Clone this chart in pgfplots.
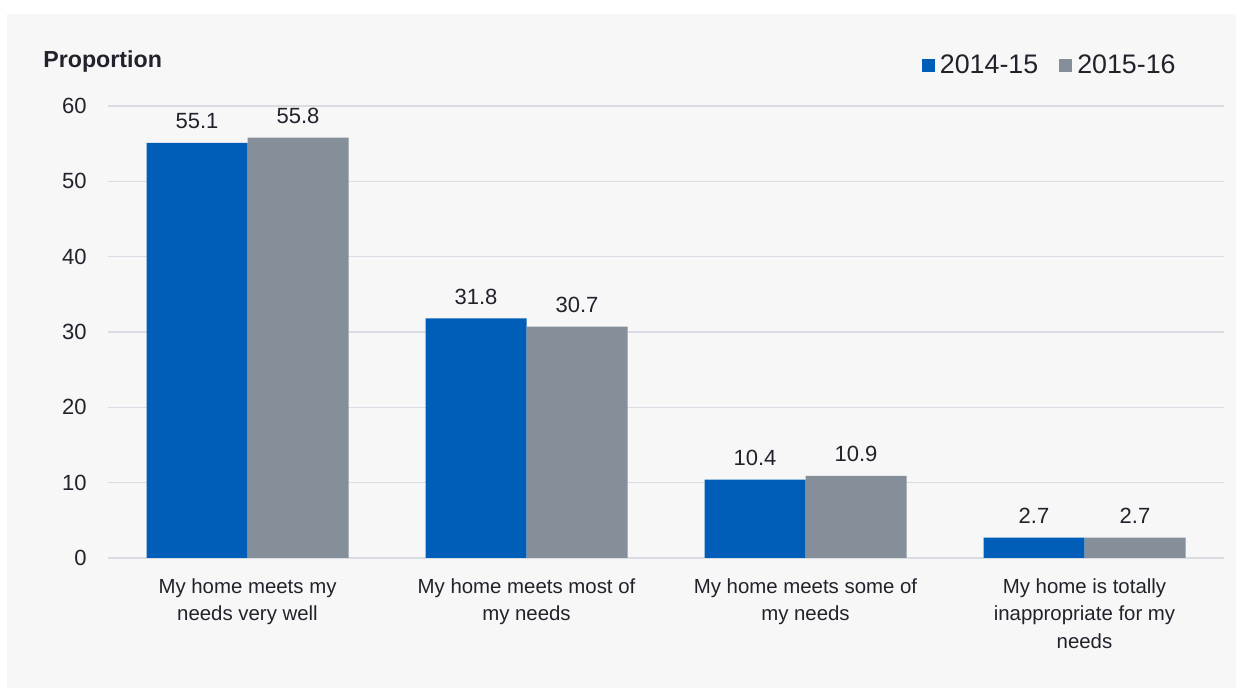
\documentclass[border=0pt]{standalone}
\usepackage{fontspec}
\setmainfont{Liberation Sans}
\usepackage{pgfplots}
\pgfplotsset{compat=1.18}
\definecolor{cblue}{RGB}{0,94,184}
\definecolor{cgray}{RGB}{133,143,154}
\definecolor{panel}{RGB}{247,247,247}
\definecolor{gridc}{RGB}{217,220,226}
\definecolor{txt}{RGB}{34,34,44}
\pgfplotsset{sq legend/.style={legend image code/.code={\fill[##1] (0pt,-3.25pt) rectangle (6.5pt,3.25pt);}}}
\begin{document}
\begin{tikzpicture}[x=1pt,y=1pt]
\fill[white] (0,0) rectangle (621,345);
\fill[panel] (3.5,1) rectangle (618,338);
\begin{axis}[
  at={(54pt,66pt)}, anchor=south west,
  scale only axis, width=558pt, height=226pt,
  ybar=0pt, bar width=50.5pt,
  xmin=-0.5, xmax=3.5, ymin=0, ymax=60,
  xtick={0,1,2,3},
  xticklabels={{My home meets my\\needs very well},{My home meets most of\\my needs},{My home meets some of\\my needs},{My home is totally\\inappropriate for my\\needs}},
  xticklabel style={align=center, anchor=north, inner sep=0pt, yshift=-10pt, font=\fontsize{10.2}{13.75}\selectfont, text=txt},
  ytick={0,10,...,60},
  yticklabel style={anchor=east, inner sep=0pt, xshift=-10.5pt, font=\fontsize{11}{13}\selectfont, text=txt},
  major tick length=0pt,
  axis line style={draw=none},
  ymajorgrids, grid style={gridc, line width=0.8pt},
  /pgf/number format/assume math mode=true,
  /pgf/number format/fixed,
  /pgf/number format/precision=1,
  nodes near coords,
  nodes near coords style={anchor=base, yshift=7pt, inner sep=0pt, font=\fontsize{11}{13}\selectfont, text=txt},
  legend columns=2,
  legend style={at={(0.9615,1.089)}, anchor=east, draw=none, fill=none, inner sep=0pt,
    font=\fontsize{13.4}{15}\selectfont, text=txt,
    nodes={inner xsep=2.5pt, inner ysep=0pt},
    /tikz/every even column/.append style={column sep=8pt}},
]
\addplot[fill=cblue, draw=none, sq legend] coordinates {(0,55.1) (1,31.8) (2,10.4) (3,2.7)};
\addplot[fill=cgray, draw=none, sq legend] coordinates {(0,55.8) (1,30.7) (2,10.9) (3,2.7)};
\legend{2014-15, 2015-16}
\end{axis}
\node[anchor=base west, inner sep=0pt, font=\bfseries\fontsize{11.6}{14}\selectfont, text=txt] at (21.5,311) {Proportion};
\end{tikzpicture}
\end{document}
